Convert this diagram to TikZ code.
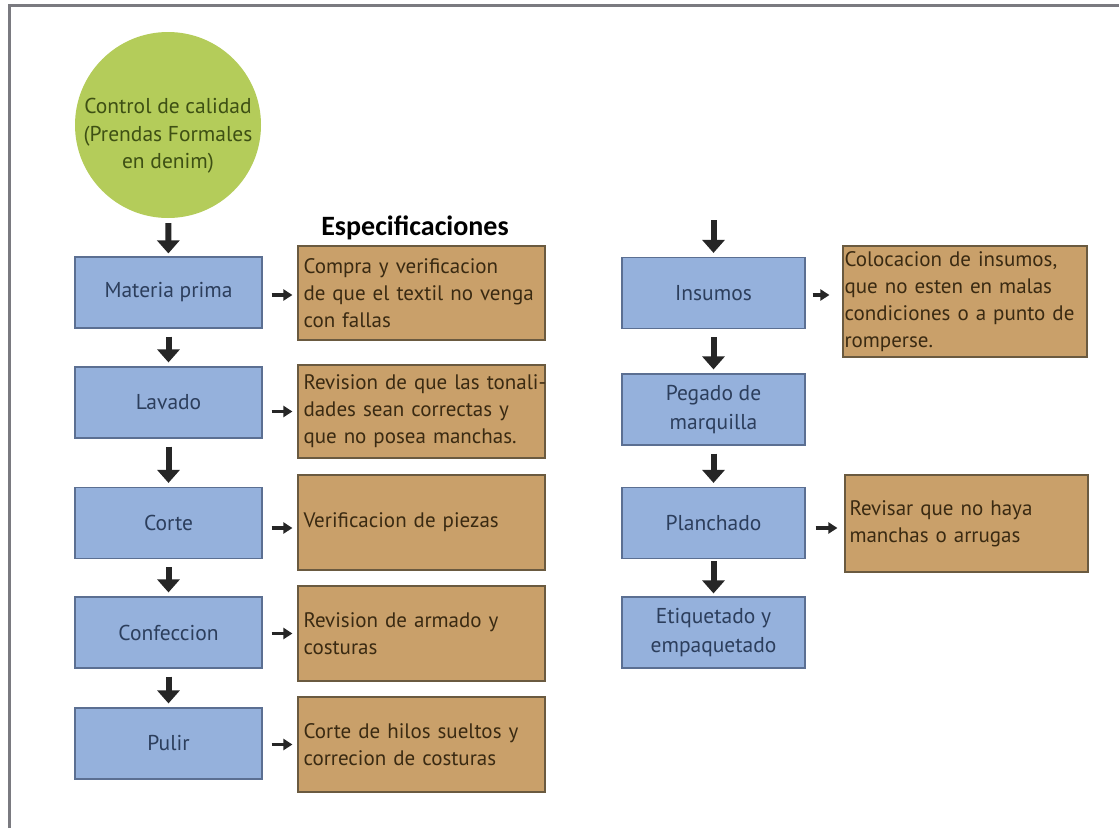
\documentclass[tikz,border=0pt]{standalone}
\usepackage{fontspec}
\setmainfont{PT Sans}
\newfontfamily\headfont{Carlito}
\usetikzlibrary{arrows.meta,calc}
\definecolor{circfill}{HTML}{B4CC5A}
\definecolor{circtext}{HTML}{3E5014}
\definecolor{bluefill}{HTML}{95B1DC}
\definecolor{blueline}{HTML}{5B6F92}
\definecolor{bluetext}{HTML}{2C3E5C}
\definecolor{brownfill}{HTML}{C9A06A}
\definecolor{brownline}{HTML}{6A5A40}
\definecolor{browntext}{HTML}{3A2A12}
\definecolor{framegray}{HTML}{7A7A80}
\tikzset{
  procbox/.style={draw=blueline, line width=1.2pt, fill=bluefill, text=bluetext,
    minimum height=71pt, inner sep=2pt, align=center, font=\fontsize{21.5}{29}\selectfont},
  specbox/.style={draw=brownline, line width=1.2pt, fill=brownfill, text=browntext,
    inner sep=0pt, align=left, font=\fontsize{21}{27}\selectfont},
  downarr/.style={line width=6pt, draw=black!85, -{Triangle[width=22pt,length=13pt]}},
  sidearr/.style={line width=3.5pt, draw=black!85, -{Triangle[width=11pt,length=9pt]}},
}
\begin{document}
\begin{tikzpicture}[x=1pt,y=-1pt]
\useasboundingbox (0,0) rectangle (1119,828);
\fill[white] (0,0) rectangle (1119,828);
% frame (top and left only)
\draw[framegray, line width=3pt] (9,828) -- (9,5) -- (1119,5);

% start circle
\node[circle, fill=circfill, minimum size=186pt, inner sep=0pt] (start) at (168,125) {};
\node[text=circtext, align=center, inner sep=0pt,
  font=\fontsize{21.5}{27.5}\selectfont] (starttext) at (168,136)
  {Control de calidad\\(Prendas Formales\\en denim)};

\node[font=\headfont\bfseries\fontsize{28}{30}\selectfont, anchor=center] (head) at (415,228) {Especificaciones};

% left column process boxes
\node[procbox, minimum width=187pt] (mp) at (168.5,292.5) {Materia prima};
\node[procbox, minimum width=187pt] (lav) at (168.5,402.5) {Lavado};
\node[procbox, minimum width=187pt] (cor) at (168.5,523) {Corte};
\node[procbox, minimum width=187pt] (con) at (168.5,632.5) {Confeccion};
\node[procbox, minimum width=187pt] (pul) at (168.5,743.5) {Pulir};

% left column spec boxes
\node[specbox, minimum width=247pt, minimum height=94pt, text width=236pt] (smp) at (421.5,293)
  {Compra y verificacion\\de que el textil no venga\\con fallas};
\node[specbox, minimum width=247pt, minimum height=93pt, text width=236pt] (slav) at (421.5,411.5)
  {\mbox{Revision de que las tonali-}\\dades sean correctas y\\que no posea manchas.};
\node[specbox, minimum width=247pt, minimum height=95pt, text width=236pt] (scor) at (421.5,522.5)
  {Verificacion de piezas};
\node[specbox, minimum width=247pt, minimum height=95pt, text width=236pt] (scon) at (421.5,633.5)
  {Revision de armado y\\costuras};
\node[specbox, minimum width=247pt, minimum height=95pt, text width=236pt] (spul) at (421.5,744.5)
  {Corte de hilos sueltos y\\correcion de costuras};

% right column process boxes
\node[procbox, minimum width=183pt] (ins) at (713.5,293) {Insumos};
\node[procbox, minimum width=183pt] (peg) at (713.5,409.5) {Pegado de\\marquilla};
\node[procbox, minimum width=183pt] (pla) at (713.5,523) {Planchado};
\node[procbox, minimum width=183pt] (eti) at (713.5,632.5) {Etiquetado y\\empaquetado};

% right column spec boxes
\node[specbox, minimum width=244pt, minimum height=111pt, text width=241pt] (sins) at (965,301.5)
  {Colocacion de insumos,\\que no esten en malas\\condiciones o a punto de\\romperse.};
\node[specbox, minimum width=243pt, minimum height=97pt, text width=234pt] (spla) at (966.5,523.5)
  {Revisar que no haya\\manchas o arrugas};

\coordinate (instop) at (713.5,220);

% down arrows
\draw[downarr, shorten <=5pt, shorten >=3pt] (start) -- (mp);
\draw[downarr, shorten <=8pt, shorten >=4pt] (mp) -- (lav);
\draw[downarr, shorten <=8pt, shorten >=4pt] (lav) -- (cor);
\draw[downarr, shorten <=8pt, shorten >=4pt] (cor) -- (con);
\draw[downarr, shorten <=8pt, shorten >=4pt] (con) -- (pul);
\draw[downarr, shorten >=4pt] (instop) -- (ins);
\draw[downarr, shorten <=8pt, shorten >=4pt] (ins) -- (peg);
\draw[downarr, shorten <=8pt, shorten >=4pt] (peg) -- (pla);
\draw[downarr, shorten <=2pt, shorten >=3pt] (pla) -- (eti);

% side arrows
\draw[sidearr] ([xshift=9pt]mp.east |- 0,295) -- ([xshift=-5pt]smp.west |- 0,295);
\draw[sidearr] ([xshift=9pt]lav.east |- slav.west) -- ([xshift=-5pt]slav.west);
\draw[sidearr] ([xshift=9pt]cor.east |- 0,528) -- ([xshift=-5pt]scor.west |- 0,528);
\draw[sidearr] ([xshift=9pt]con.east |- scon.west) -- ([xshift=-5pt]scon.west);
\draw[sidearr] ([xshift=9pt]pul.east |- spul.west) -- ([xshift=-5pt]spul.west);
\draw[sidearr] ([xshift=7pt]ins.east |- 0,295) -- ([xshift=-13pt]sins.west |- 0,295);
\draw[sidearr] ([xshift=10pt]pla.east |- 0,528) -- ([xshift=-7pt]spla.west |- 0,528);
\end{tikzpicture}
\end{document}
